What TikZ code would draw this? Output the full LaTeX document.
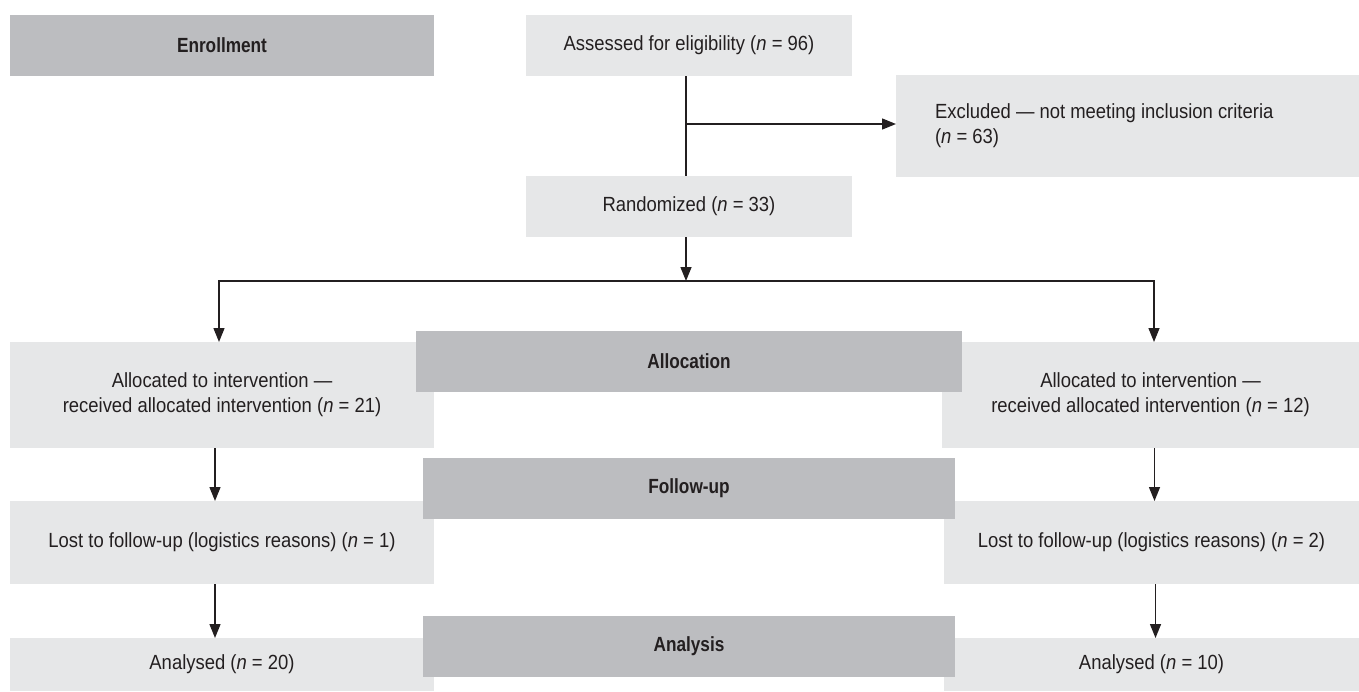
\documentclass[tikz,border=0pt]{standalone}
\usepackage{fontspec}
\setmainfont{Liberation Sans}[FakeStretch=0.9,BoldFeatures={FakeStretch=0.84}]
\usetikzlibrary{arrows.meta}
\definecolor{lgray}{HTML}{E6E7E8}
\definecolor{dgray}{HTML}{BCBDC0}
\definecolor{ink}{HTML}{231F20}
\begin{document}
\begin{tikzpicture}[x=1pt,y=-1pt,
  every node/.style={inner sep=0pt,outer sep=0pt,text=ink,font=\fontsize{20.5}{25}\selectfont},
  lbox/.style={fill=lgray,align=center},
  hbox/.style={fill=dgray,align=center,font=\fontsize{20.5}{25}\selectfont\bfseries},
  conn/.style={draw=ink,line width=1.4pt},
  arr/.style={conn,-{Triangle[length=14pt,width=11pt]}}]
\useasboundingbox (0,0) rectangle (1359,691);
% boxes
\node[lbox,minimum width=326,minimum height=61] (ass) at (689,45.5) {Assessed for eligibility (\textit{n} = 96)};
\node[lbox,minimum width=463,minimum height=102,align=flush left,text width=385] (exc) at (1127.5,126) {Excluded — not meeting inclusion criteria\\(\textit{n} = 63)\\[6pt]};
\node[lbox,minimum width=326,minimum height=61] (rand) at (689,206.5) {Randomized (\textit{n} = 33)};
\node[lbox,minimum width=424,minimum height=106] (al) at (222,395) {Allocated to intervention —\\received allocated intervention (\textit{n} = 21)};
\node[lbox,minimum width=417,minimum height=106] (ar) at (1150.5,395) {Allocated to intervention —\\received allocated intervention (\textit{n} = 12)};
\node[lbox,minimum width=424,minimum height=83] (ll) at (222,542.5) {Lost to follow-up (logistics reasons) (\textit{n} = 1)};
\node[lbox,minimum width=415,minimum height=83] (lr) at (1151.5,542.5) {Lost to follow-up (logistics reasons) (\textit{n} = 2)};
\node[lbox,minimum width=424,minimum height=53] (nl) at (222,664.5) {Analysed (\textit{n} = 20)};
\node[lbox,minimum width=415,minimum height=53] (nr) at (1151.5,664.5) {Analysed (\textit{n} = 10)};
% phase headers (on top of the boxes they overlap)
\node[hbox,minimum width=424,minimum height=61] (enr) at (222,45.5) {Enrollment};
\node[hbox,minimum width=546,minimum height=61] (alloc) at (689,361.5) {Allocation};
\node[hbox,minimum width=532,minimum height=61] (fup) at (689,488.5) {Follow-up};
\node[hbox,minimum width=532,minimum height=61] (ana) at (689,646.5) {Analysis};
% connectors
\coordinate (branch) at (686,124);
\coordinate (split) at (686,281);
\draw[conn] (ass.south -| branch) -- (rand.north -| branch);
\draw[arr] (branch) -- (exc.west |- branch);
\draw[arr] (rand.south -| split) -- (split);
\draw[arr] (split) -| ([xshift=-3pt]al.north);
\draw[arr] (split) -| ([xshift=3.5pt]ar.north);
\draw[arr] ([xshift=-7pt]al.south) -- ([xshift=-7pt]ll.north);
\draw[arr] ([xshift=4pt]ar.south) -- ([xshift=4pt]lr.north -| ar.south);
\draw[arr] ([xshift=-7pt]ll.south) -- ([xshift=-7pt]nl.north);
\draw[arr] ([xshift=4pt]lr.south) -- ([xshift=4pt]nr.north);
\end{tikzpicture}
\end{document}
